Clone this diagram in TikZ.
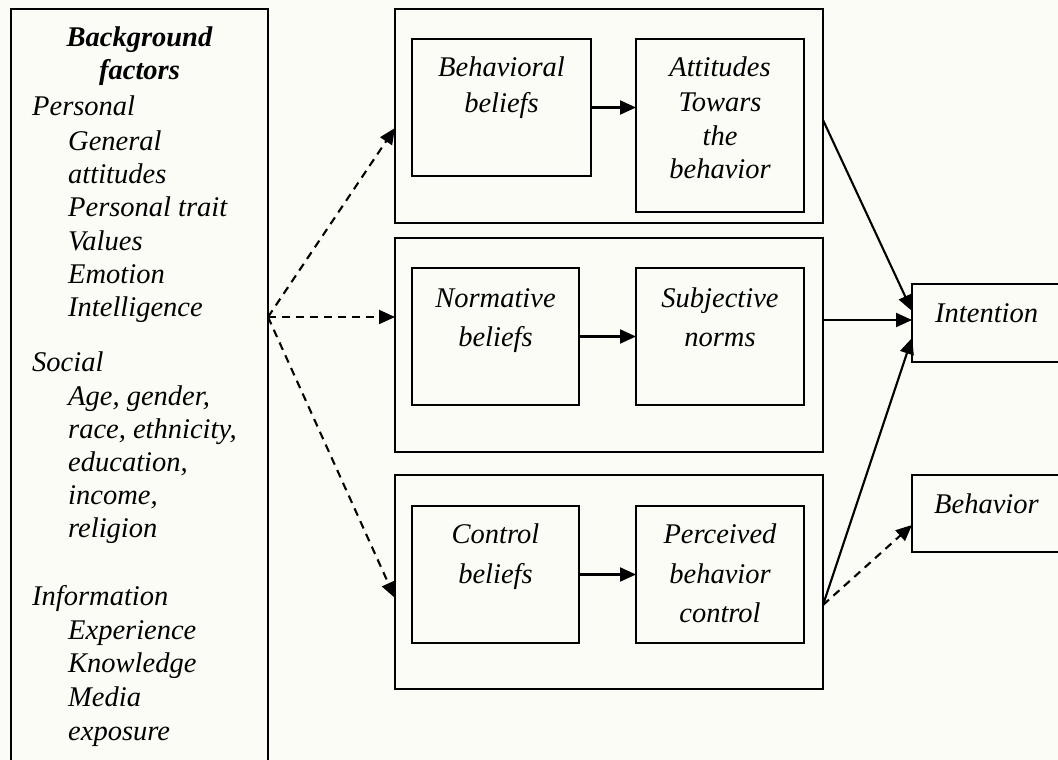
\documentclass[tikz,border=0pt]{standalone}
\usepackage{fontspec}
\setmainfont{Liberation Serif}
\usetikzlibrary{arrows.meta,calc}
\definecolor{paper}{RGB}{252,252,246}
\begin{document}
\begin{tikzpicture}[x=1pt,y=-1pt,
  frame/.style={draw, line width=1.9pt, fill=paper, inner sep=0pt, outer sep=0pt, anchor=north west},
  txt/.style={font=\fontsize{28.5}{33}\selectfont\itshape, inner sep=0pt, anchor=base},
  lefttxt/.style={txt, anchor=base west},
  headtxt/.style={txt, font=\fontsize{28.5}{33}\selectfont\bfseries\itshape},
  link/.style={line width=2.1pt, -{Triangle[length=16pt,width=14pt]}},
  dlink/.style={link, dash pattern=on 8pt off 6pt},
]
\path[use as bounding box, fill=paper] (0,0) rectangle (1058,760);
\clip (0,0) rectangle (1058,760);

% background factors column
\node[frame, minimum width=257pt, minimum height=775pt] (bgf) at (11,9) {};
\node[headtxt] (h1) at (bgf.north |- 0,47) {Background};
\node[headtxt] (h2) at (bgf.north |- 0,80) {factors};
\node[lefttxt] (p0) at (32,115) {Personal};
\foreach \y/\t [count=\i] in {150/General, 183/attitudes, 216/{Personal trait}, 250/Values, 283/Emotion, 316/Intelligence}
  \node[lefttxt] (p\i) at (68,\y) {\t};
\node[lefttxt] (s0) at (32,371) {Social};
\foreach \y/\t [count=\i] in {405/{Age, gender,}, 438/{race, ethnicity,}, 471/{education,}, 504/{income,}, 537/religion}
  \node[lefttxt] (s\i) at (68,\y) {\t};
\node[lefttxt] (i0) at (32,605) {Information};
\foreach \y/\t [count=\i] in {639/Experience, 672/Knowledge, 706/Media, 740/exposure}
  \node[lefttxt] (i\i) at (68,\y) {\t};

% three belief groups
\node[frame, minimum width=428pt, minimum height=214pt] (tg)  at (395,9) {};
\node[frame, minimum width=428pt, minimum height=214pt] (mg)  at (395,238) {};
\node[frame, minimum width=428pt, minimum height=214pt] (lg)  at (395,475) {};

\node[frame, minimum width=179pt, minimum height=137pt] (bb)  at (412,39) {};
\node[frame, minimum width=168pt, minimum height=173pt] (att) at (636,39) {};
\node[frame, minimum width=167pt, minimum height=137pt] (nb)  at (412,268) {};
\node[frame, minimum width=168pt, minimum height=137pt] (sn)  at (636,268) {};
\node[frame, minimum width=167pt, minimum height=137pt] (cb)  at (412,506) {};
\node[frame, minimum width=168pt, minimum height=137pt] (pbc) at (636,506) {};

\node[txt] (bb1) at (bb.north |- 0,77) {Behavioral};
\node[txt] (bb2) at (bb.north |- 0,112) {beliefs};
\node[txt] (at1) at (att.north |- 0,77) {Attitudes};
\node[txt] (at2) at (att.north |- 0,111) {Towars};
\node[txt] (at3) at (att.north |- 0,145) {the};
\node[txt] (at4) at (att.north |- 0,178) {behavior};
\node[txt] (nb1) at (nb.north |- 0,307) {Normative};
\node[txt] (nb2) at (nb.north |- 0,346) {beliefs};
\node[txt] (sn1) at (sn.north |- 0,307) {Subjective};
\node[txt] (sn2) at (sn.north |- 0,346) {norms};
\node[txt] (cb1) at (cb.north |- 0,543) {Control};
\node[txt] (cb2) at (cb.north |- 0,583) {beliefs};
\node[txt] (pc1) at (pbc.north |- 0,543) {Perceived};
\node[txt] (pc2) at (pbc.north |- 0,583) {behavior};
\node[txt] (pc3) at (pbc.north |- 0,622) {control};

% outcomes
\node[frame, minimum width=200pt, minimum height=78pt] (int) at (912,284) {};
\node[frame, minimum width=200pt, minimum height=77pt] (beh) at (912,475) {};
\node[lefttxt] (intt) at (935,322) {Intention};
\node[lefttxt] (beht) at (934,513) {Behavior};

% connectors
\coordinate (fork) at (268,317);
\draw[dlink] (fork) -- ([yshift=-12pt]tg.west);
\draw[dlink] (fork) -- (fork -| mg.west);
\draw[dlink] (fork) -- ([yshift=-16pt]lg.west);
\draw[link] (bb.east) -- (bb.east -| att.west);
\draw[link] (nb.east) -- (nb.east -| sn.west);
\draw[link] (cb.east) -- (cb.east -| pbc.west);
\draw[link] ([yshift=-4pt]tg.east) -- ([yshift=12pt]int.west);
\draw[link] ([yshift=25pt]mg.east) -- ([yshift=25pt]mg.east -| int.west);
\draw[link] ([yshift=-23pt]lg.east) -- ([yshift=-15pt]int.west);
\draw[dlink] ([yshift=-23pt]lg.east) -- ([yshift=-11.5pt]beh.west);
\end{tikzpicture}
\end{document}
